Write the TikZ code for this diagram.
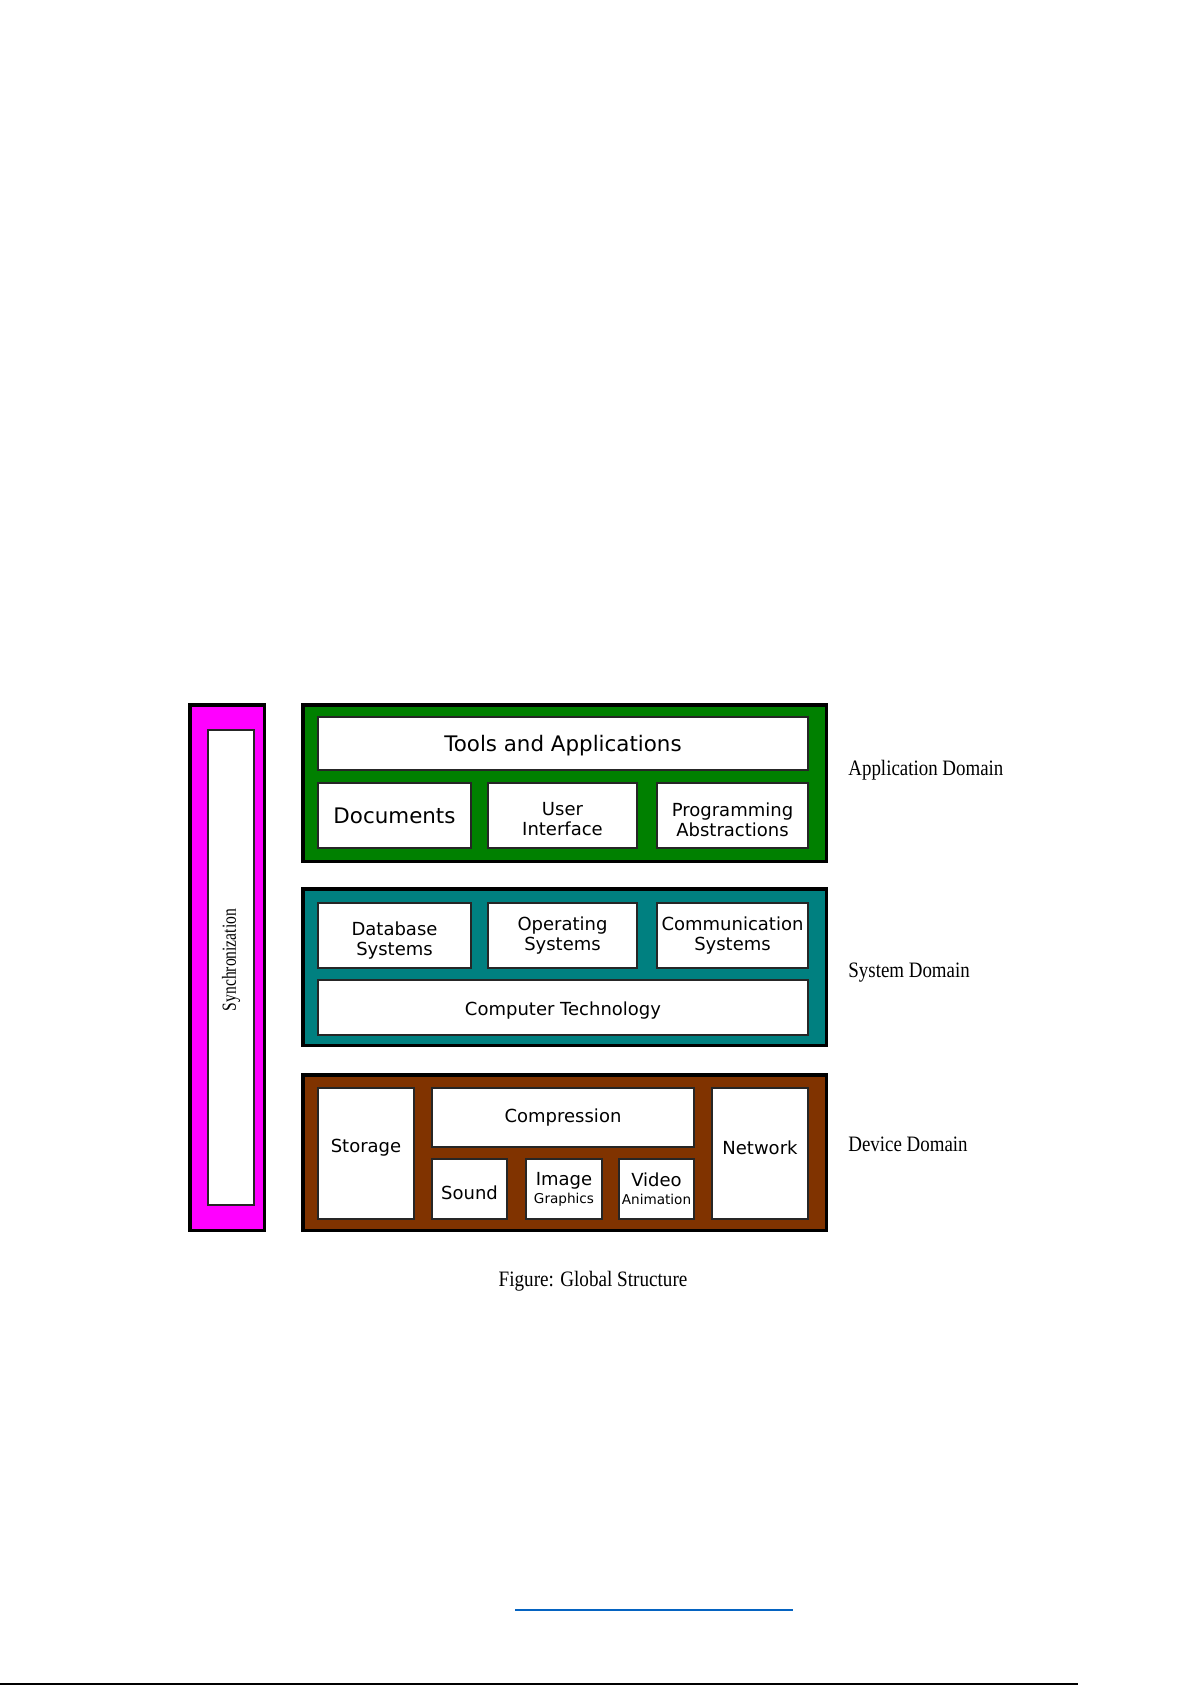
\documentclass[tikz,border=0pt]{standalone}
\usepackage{fontspec}
\setmainfont{Liberation Serif}
\newfontfamily\boxfont{DejaVu Sans}
\usetikzlibrary{calc}

\definecolor{syncmagenta}{RGB}{255,0,255}
\definecolor{appgreen}{RGB}{0,128,0}
\definecolor{systeal}{RGB}{0,128,128}
\definecolor{devbrown}{RGB}{128,51,0}
\definecolor{linkblue}{RGB}{5,99,193}

\begin{document}
\begin{tikzpicture}[x=0.5pt,y=-0.5pt,
    domainbox/.style={draw=black,line width=1.75pt},
    cell/.style={draw=black!85,fill=white,line width=0.75pt},
    celltext/.style={font=\boxfont\fontsize{9}{10}\selectfont,align=center,inner sep=0pt},
    bigtext/.style={font=\boxfont\fontsize{10.7}{12}\selectfont,inner sep=0pt},
    domlabel/.style={anchor=west,font=\fontsize{11}{13}\selectfont,inner sep=0pt}]
                      \fill[white] (0,0) rectangle (1192,1685);
                      \useasboundingbox (0,0) rectangle (1192,1685);
                      % synchronization bar
                      \draw[domainbox,fill=syncmagenta] (189.75,704.75) rectangle (264.25,1230.25);
                      \draw[cell] (208,730) rectangle (254,1205) node[midway,yshift=3.75pt,rotate=90,font=\fontsize{10}{12}\selectfont] (sync) {\scalebox{0.78}[1]{Synchronization}};
                      % application domain
                      \draw[domainbox,fill=appgreen] (302.75,704.75) rectangle (826.25,861.25);
                      \draw[cell] (318,717) rectangle (808,770) node[midway,bigtext,yshift=-1pt] (tools) {Tools and Applications};
                      \draw[cell] (318,783) rectangle (471,848) node[midway,bigtext] (docs) {Documents};
                      \draw[cell] (488,783) rectangle (637,848) node[midway,celltext,yshift=-2pt] (ui) {User\\Interface};
                      \draw[cell] (657,783) rectangle (808,848) node[midway,celltext,yshift=-2pt] (progabs) {Programming\\Abstractions};
                      % system domain
                      \draw[domainbox,fill=systeal] (302.75,888.75) rectangle (826.25,1045.25);
                      \draw[cell] (318,903) rectangle (471,968) node[midway,celltext,yshift=-2.6pt] (dbsys) {Database\\Systems};
                      \draw[cell] (488,903) rectangle (637,968) node[midway,celltext] (opsys) {Operating\\Systems};
                      \draw[cell] (657,903) rectangle (808,968) node[midway,celltext] (commsys) {Communication\\Systems};
                      \draw[cell] (318,980) rectangle (808,1035) node[midway,celltext,yshift=-1.5pt] (comptech) {Computer Technology};
                      % device domain
                      \draw[domainbox,fill=devbrown] (302.75,1074.75) rectangle (826.25,1230.25);
                      \draw[cell] (318,1088) rectangle (414,1219) node[midway,celltext,yshift=2.7pt] (storage) {Storage};
                      \draw[cell] (432,1088) rectangle (694,1147) node[midway,celltext] (compress) {Compression};
                      \draw[cell] (432,1159) rectangle (507,1219) node[midway,celltext,yshift=-2pt] (sound) {Sound};
                      \draw[cell] (526,1159) rectangle (602,1219) node[midway,celltext] (image) {Image\\[-1pt]{\fontsize{6.8}{8}\selectfont Graphics}};
                      \draw[cell] (619,1159) rectangle (694,1219) node[midway,celltext] (video) {Video\\[-1pt]{\fontsize{6.8}{8}\selectfont Animation}};
                      \draw[cell] (712,1088) rectangle (808,1219) node[midway,celltext,yshift=2.7pt] (network) {Network};
                      % labels
                      \node[domlabel] (applab) at (848,770) {\scalebox{0.86}[1]{Application Domain}};
                      \node[domlabel] (syslab) at (848,973) {\scalebox{0.86}[1]{System Domain}};
                      \node[domlabel] (devlab) at (848,1144) {\scalebox{0.86}[1]{Device Domain}};
                      \node[font=\fontsize{11}{13}\selectfont] (caption) at (593,1281) {\scalebox{0.87}[1]{Figure: Global Structure}};
                      % page rules
                      \draw[linkblue,line width=1pt] (515,1610) -- (793,1610);
                      \draw[black,line width=1pt] (0,1683.5) -- (1078,1683.5);
                  \end{tikzpicture}
\end{document}
